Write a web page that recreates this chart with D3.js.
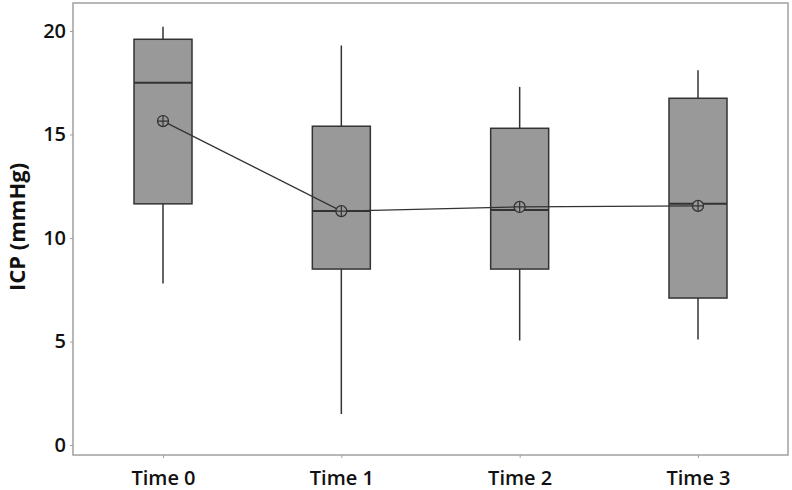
<!DOCTYPE html>
<html>
<head>
<meta charset="utf-8">
<script src="https://cdn.jsdelivr.net/npm/d3@7"></script>
<style>
  body { margin: 0; background: #fff; }
  text { font-family: "Open Sans", "DejaVu Sans", sans-serif; }
</style>
</head>
<body>
<div id="chart"></div>
<script>
// values
var categories = ["Time 0", "Time 1", "Time 2", "Time 3"]
var whiskerLow = [7.8, 1.5, 5.05, 5.1]
var q1 = [11.65, 8.5, 8.5, 7.1]
var median = [17.5, 11.3, 11.35, 11.65]
var q3 = [19.6, 15.4, 15.3, 16.75]
var whiskerHigh = [20.2, 19.3, 17.3, 18.1]
var means = [15.65, 11.3, 11.5, 11.55]
var yTicks = [0, 5, 10, 15, 20]

var width = 792, height = 490
var margin = {left: 73, right: 4, top: 3, bottom: 35}

var svg = d3.select("#chart").append("svg")
    .attr("width", width)
    .attr("height", height)

var x = d3.scalePoint()
    .domain(categories)
    .range([163, 698])

var y = d3.scaleLinear()
    .domain([0, 20])
    .range([445, 31])

var boxW = 58

// frame
svg.append("rect")
    .attr("x", margin.left)
    .attr("y", margin.top)
    .attr("width", width - margin.left - margin.right)
    .attr("height", height - margin.top - margin.bottom)
    .style("fill", "none")
    .style("stroke", "#a0a0a0")
    .style("stroke-width", 1.5)

/* axes */
var yAxis = d3.axisLeft(y).tickValues(yTicks).tickSize(3).tickPadding(4)
var gy = svg.append("g")
    .attr("transform", `translate(${margin.left}, 0)`)
    .call(yAxis)
gy.select(".domain").remove()
gy.selectAll("line").style("stroke", "#a0a0a0")
gy.selectAll("text")
    .style("font-size", "20px")
    .style("font-weight", 600)
    .style("fill", "#111")

var xAxis = d3.axisBottom(x).tickSize(3).tickPadding(13)
var gx = svg.append("g")
    .attr("transform", `translate(0, ${height - margin.bottom})`)
    .call(xAxis)
gx.select(".domain").remove()
gx.selectAll("line").style("stroke", "#a0a0a0")
gx.selectAll("text")
    .style("font-size", "20px")
    .style("font-weight", 600)
    .style("fill", "#111")

svg.append("text")
    .attr("transform", "translate(25, 227) rotate(-90)")
    .attr("text-anchor", "middle")
    .style("font-size", "22px")
    .style("font-weight", 700)
    .style("fill", "#111")
    .text("ICP (mmHg)")

var boxes = svg.append("g").attr("class", "boxes")
var idx = d3.range(categories.length)

// whiskers
boxes.selectAll(".whisker")
    .data(idx).enter()
    .append("line")
    .attr("class", "whisker")
    .attr("x1", i => x(categories[i]))
    .attr("x2", i => x(categories[i]))
    .attr("y1", i => y(whiskerLow[i]))
    .attr("y2", i => y(whiskerHigh[i]))
    .style("stroke", "#333")
    .style("stroke-width", 1.5)

boxes.selectAll(".box")
    .data(idx).enter()
    .append("rect")
    .attr("class", "box")
    .attr("x", i => x(categories[i]) - boxW / 2)
    .attr("width", boxW)
    .attr("y", i => y(q3[i]))
    .attr("height", i => y(q1[i]) - y(q3[i]))
    .style("fill", "#999999")
    .style("stroke", "#333")
    .style("stroke-width", 1.5)

boxes.selectAll(".median")
    .data(idx).enter()
    .append("line")
    .attr("class", "median")
    .attr("x1", i => x(categories[i]) - boxW / 2)
    .attr("x2", i => x(categories[i]) + boxW / 2)
    .attr("y1", i => y(median[i]))
    .attr("y2", i => y(median[i]))
    .style("stroke", "#333")
    .style("stroke-width", 2)

// mean connect line
var line = d3.line()
    .x((d, i) => x(categories[i]))
    .y(d => y(d))

svg.append("path")
    .attr("d", line(means))
    .style("fill", "none")
    .style("stroke", "#333")
    .style("stroke-width", 1.3)

var meanSym = svg.append("g").selectAll(".mean")
    .data(idx).enter()
    .append("g")
    .attr("class", "mean")
    .attr("transform", i => `translate(${x(categories[i])}, ${y(means[i])})`)

meanSym.append("circle")
    .attr("r", 5.5)
    .style("fill", "#999999")
    .style("stroke", "#333")
    .style("stroke-width", 1.3)
meanSym.append("path")
    .attr("d", "M-5.5,0H5.5M0,-5.5V5.5")
    .style("stroke", "#333")
    .style("stroke-width", 1.2)
</script>
</body>
</html>
